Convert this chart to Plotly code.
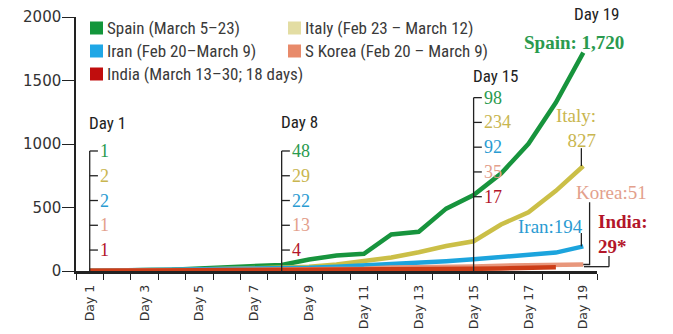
import plotly.graph_objects as go

# ---------------- data ----------------
days = ["Day 1", "Day 2", "Day 3", "Day 4", "Day 5", "Day 6", "Day 7", "Day 8", "Day 9", "Day 10",
        "Day 11", "Day 12", "Day 13", "Day 14", "Day 15", "Day 16", "Day 17", "Day 18", "Day 19"]
spain = [1, 3, 5, 10, 20, 30, 40, 48, 90, 122, 136, 288, 309, 491, 598, 767, 1002, 1326, 1720]
italy = [2, 3, 7, 10, 12, 17, 21, 29, 34, 52, 79, 107, 148, 197, 234, 366, 463, 631, 827]
iran = [2, 4, 5, 8, 12, 16, 19, 22, 26, 34, 43, 54, 66, 77, 92, 107, 124, 145, 194]
korea = [1, 2, 2, 6, 8, 10, 12, 13, 13, 16, 17, 28, 28, 32, 35, 42, 44, 50, 51]
india = [1, 2, 2, 2, 3, 3, 4, 4, 4, 7, 9, 10, 11, 13, 17, 20, 25, 29]

legend_texts = ["Spain (March 5–23)", "Italy (Feb 23 – March 12)", "Iran (Feb 20–March 9)",
                "S Korea (Feb 20 – March 9)", "India (March 13–30; 18 days)"]
callout_days = [1, 8, 15]
callout_texts = [["1", "2", "2", "1", "1"],
                 ["48", "29", "22", "13", "4"],
                 ["98", "234", "92", "35", "17"]]
y_ticks = [0, 500, 1000, 1500, 2000]

# ---------------- styles ----------------
line_colors = ["#17943d", "#cbbf47", "#1ca4dd", "#e8977c", "#cc3d17"]
legend_colors = ["#13963b", "#e3dda3", "#1fa7e6", "#e88a6a", "#c00d0d"]
label_colors = ["#2a9a4e", "#c9b650", "#2a9bd2", "#e3a08c", "#b3162a"]
SANS_N = "Liberation Sans Narrow, Roboto Condensed, Roboto, sans-serif"
DEJA = "DejaVu Sans, sans-serif"
SERIF = "Liberation Serif, Times New Roman, serif"
INK = "#222222"

W, H = 673, 334
L, R, T, B = 76, 76, 17, 63
PW, PH = W - L - R, H - T - B


def px2x(x):
    return (x - L) / PW


def px2y(y):
    return (H - B - y) / PH


series = [spain, italy, iran, korea, india]
xs = list(range(1, len(days) + 1))

fig = go.Figure()
for vals, col in zip(series, line_colors):
    fig.add_trace(go.Scatter(x=xs[:len(vals)], y=vals, mode="lines",
                             line=dict(color=col, width=4.5), hoverinfo="skip"))

shapes = []
annotations = []

# legend (squares + text)
leg_pos = [(90, 28), (288, 28), (90, 51), (288, 51), (90, 74)]
for (lx, ly), txt, col in zip(leg_pos, legend_texts, legend_colors):
    shapes.append(dict(type="rect", xref="paper", yref="paper",
                       x0=px2x(lx), x1=px2x(lx + 13), y0=px2y(ly + 6.5), y1=px2y(ly - 6.5),
                       fillcolor=col, line=dict(width=0)))
    annotations.append(dict(text=txt, xref="paper", yref="paper", x=px2x(lx + 15), y=px2y(ly),
                            xanchor="left", yanchor="middle", showarrow=False,
                            font=dict(family=SANS_N, size=17, color="#3a3a3a")))

# day call-out brackets
levels_low = [945, 750, 555, 360, 165]
levels_high = [1365, 1170, 975, 780, 585]
day_label_y = [1165, 1170, 1535]
for d, texts, ly in zip(callout_days, callout_texts, day_label_y):
    levels = levels_high if d == 15 else levels_low
    shapes.append(dict(type="line", xref="x", yref="y", x0=d, x1=d, y0=0, y1=levels[0],
                       line=dict(color=INK, width=1.3)))
    for lev, t, col in zip(levels, texts, label_colors):
        shapes.append(dict(type="line", xref="x", yref="y", x0=d, x1=d + 0.3, y0=lev, y1=lev,
                           line=dict(color=INK, width=1.3)))
        annotations.append(dict(text=t, xref="x", yref="y", x=d, y=lev, xshift=8,
                                xanchor="left", yanchor="middle", showarrow=False,
                                font=dict(family=SERIF, size=18, color=col)))
    annotations.append(dict(text=days[d - 1], xref="x", yref="y", x=d, y=ly, xshift=-3,
                            xanchor="left", yanchor="middle", showarrow=False,
                            font=dict(family=SANS_N, size=17, color=INK)))

# Day 19 and end labels
annotations.append(dict(text=days[-1], xref="paper", yref="paper", x=px2x(597), y=px2y(14),
                        xanchor="center", yanchor="middle", showarrow=False,
                        font=dict(family=SANS_N, size=17, color=INK)))
annotations.append(dict(text=f"<b>Spain: {spain[-1]:,}</b>", xref="paper", yref="paper",
                        x=px2x(574), y=px2y(42), xanchor="center", yanchor="middle", showarrow=False,
                        font=dict(family=SERIF, size=19, color=label_colors[0])))
annotations.append(dict(text=f"Italy:<br>{italy[-1]}", xref="paper", yref="paper",
                        x=px2x(598), y=px2y(128), xanchor="right", yanchor="middle", align="right",
                        showarrow=False, font=dict(family=SERIF, size=19, color=label_colors[1])))
annotations.append(dict(text=f"Iran:{iran[-1]}", xref="paper", yref="paper",
                        x=px2x(550), y=px2y(226), xanchor="center", yanchor="middle", showarrow=False,
                        font=dict(family=SERIF, size=19, color=label_colors[2])))
annotations.append(dict(text=f"Korea:{korea[-1]}", xref="paper", yref="paper",
                        x=px2x(611), y=px2y(192), xanchor="center", yanchor="middle", showarrow=False,
                        font=dict(family=SERIF, size=19, color=label_colors[3])))
annotations.append(dict(text=f"<b>India:<br>{india[-1]}*</b>", xref="paper", yref="paper",
                        x=px2x(596), y=px2y(234), xanchor="left", yanchor="middle", align="left",
                        showarrow=False, font=dict(family=SERIF, size=19, color=label_colors[4])))

# leader lines
lead = dict(color=INK, width=1.3)
shapes.append(dict(type="line", xref="x", yref="y", x0=18.93, x1=18.93,
                   y0=italy[-1], y1=italy[-1] + 140, line=lead))
shapes.append(dict(type="line", xref="x", yref="y", x0=18.93, x1=18.93,
                   y0=iran[-1], y1=iran[-1] + 105, line=lead))
shapes.append(dict(type="path", xref="x", yref="y",
                   path=f"M 19,{korea[-1]} L 19.23,{korea[-1]} L 19.23,{korea[-1] + 490}", line=lead))
shapes.append(dict(type="line", xref="paper", yref="y", x0=px2x(584), x1=px2x(609),
                   y0=india[-1] + 5, y1=india[-1] + 5, line=lead))
shapes.append(dict(type="line", xref="paper", yref="y", x0=px2x(609), x1=px2x(609),
                   y0=india[-1] + 5, y1=india[-1] + 90, line=lead))

fig.update_layout(
    width=W, height=H, margin=dict(l=L, r=R, t=T, b=B, pad=0, autoexpand=False),
    paper_bgcolor="white", plot_bgcolor="white", showlegend=False,
    shapes=shapes, annotations=annotations,
    xaxis=dict(range=[0.5, 19.5], tickmode="array", tickvals=xs[::2], ticktext=days[::2],
               ticks="outside", ticklen=6, tickcolor="rgba(0,0,0,0)", tickangle=-90,
               tickfont=dict(family=DEJA, size=12.5, color="#333333"), ticklabelstandoff=0,
               showline=True, linecolor=INK, linewidth=2.5, showgrid=False, zeroline=False,
               automargin=False,
               minor=dict(tickmode="array", tickvals=[i + 0.5 for i in range(0, 20)],
                          ticks="outside", ticklen=6, tickcolor=INK, tickwidth=1.2)),
    yaxis=dict(range=[0, 2000], tickmode="array", tickvals=y_ticks,
               ticks="outside", ticklen=12, tickcolor=INK, tickwidth=1.3,
               tickfont=dict(family=DEJA, size=15, color="#333333"),
               showline=True, linecolor=INK, linewidth=1.5, showgrid=False, zeroline=False,
               automargin=False, ticklabelstandoff=-2),
)

fig.write_html("out.html")
